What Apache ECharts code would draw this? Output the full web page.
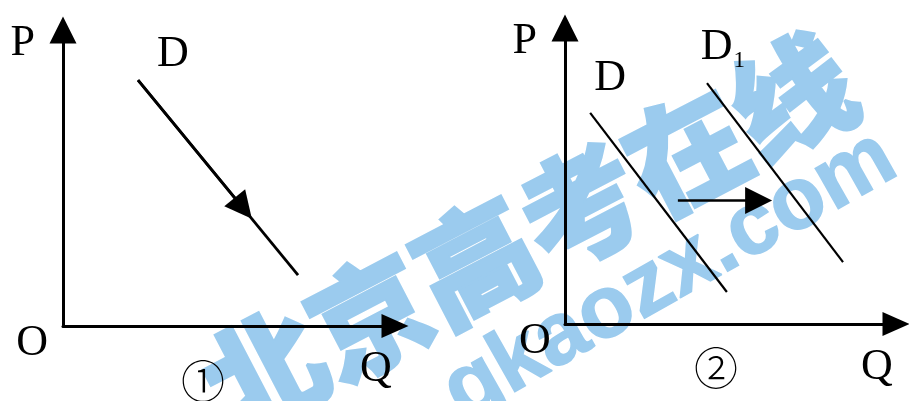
<!DOCTYPE html>
<html>
<head>
<meta charset="utf-8">
<script src="https://cdn.jsdelivr.net/npm/echarts@6/dist/echarts.min.js"></script>
<style>
  html, body { margin: 0; padding: 0; background: #fff; }
  #chart { width: 909px; height: 401px; }
</style>
</head>
<body>
<div id="chart"></div>
<script>
// panel 1: one demand curve, movement along it
const curveD1 = [[22.6, 83.1], [70.8, 17.2]];
const moveAlong = [[22.6, 83.1], [54.3, 39.8]];

// panel 2: demand curve shifts right from D to D1
const curveD2 = [[7.6, 71.3], [48.9, 10.8]];
const curveD2shift = [[42.9, 81.4], [84.0, 20.9]];
const shiftArrow = [[34.1, 41.7], [58.5, 41.7]];

const axisNames = ['P', 'Q'];
const panelTags = ['①', '②'];
const curveNames = ['D', 'D1'];
const watermark = ['北京高考在线', 'gkaozx.com'];

const serif = "'Liberation Serif', 'Times New Roman', serif";
const ink = '#000';
const wmBlue = '#9bcbee';

const chart = echarts.init(document.getElementById('chart'));

function xAxisOf(idx) {
  return {
    type: 'value', gridIndex: idx, min: 0, max: 100, z: 5,
    name: axisNames[1], nameLocation: 'end', nameGap: -19,
    nameTextStyle: { fontFamily: serif, fontSize: 44, color: ink, align: 'center', verticalAlign: 'top', padding: [21, 0, 0, 0] },
    axisLine: { show: true, onZero: false, symbol: ['none', 'triangle'], symbolSize: [24, 27], lineStyle: { color: ink, width: 3 } },
    axisTick: { show: false }, axisLabel: { show: false }, splitLine: { show: false }
  };
}

function yAxisOf(idx) {
  return {
    type: 'value', gridIndex: idx, min: 0, max: 100, z: 5,
    name: axisNames[0], nameLocation: 'end', nameGap: -13,
    nameTextStyle: { fontFamily: serif, fontSize: 44, color: ink, align: 'right', verticalAlign: 'middle', padding: [0, 28, 0, 0] },
    axisLine: { show: true, onZero: false, symbol: ['none', 'triangle'], symbolSize: [27, 27], lineStyle: { color: ink, width: 3 } },
    axisTick: { show: false }, axisLabel: { show: false }, splitLine: { show: false }
  };
}

function curve(data, idx, width) {
  return {
    type: 'line', xAxisIndex: idx, yAxisIndex: idx, data: data, z: 5,
    symbol: 'none', lineStyle: { color: ink, width: width }, silent: true
  };
}

function arrow(data, idx, width) {
  return {
    type: 'lines', coordinateSystem: 'cartesian2d', xAxisIndex: idx, yAxisIndex: idx,
    data: [{ coords: data }], z: 5,
    symbol: ['none', 'triangle'], symbolSize: [25, 27],
    lineStyle: { color: ink, width: width, opacity: 1 }, silent: true
  };
}

// text labels pinned in data units of each panel
function tag(idx, items) {
  return {
    type: 'scatter', xAxisIndex: idx, yAxisIndex: idx, clip: false, silent: true, z: 5,
    symbol: 'circle', symbolSize: 1, itemStyle: { color: 'transparent' },
    data: items.map(function (it) {
      return { value: [it[1], it[2]], label: { show: true, position: 'inside', formatter: it[0] } };
    }),
    label: {
      fontFamily: serif, fontSize: 44, color: ink, opacity: 1, textBorderWidth: 0,
      rich: {
        m: { fontFamily: serif, fontSize: 44, color: ink, textBorderWidth: 0 },
        s: { fontFamily: serif, fontSize: 23, color: ink, textBorderWidth: 0, padding: [28, 0, 0, 1] }
      }
    }
  };
}

const wmStyle = { fill: wmBlue, stroke: wmBlue, lineWidth: 3, align: 'center', verticalAlign: 'middle' };

chart.setOption({
  animation: false,
  backgroundColor: '#fff',
  grid: [
    { left: 63, top: 30, width: 332, height: 296 },
    { left: 565, top: 28, width: 331, height: 296 }
  ],
  xAxis: [xAxisOf(0), xAxisOf(1)],
  yAxis: [yAxisOf(0), yAxisOf(1)],
  series: [
    curve(curveD1, 0, 2.8),
    arrow(moveAlong, 0, 2.8),
    curve(curveD2, 1, 2.2),
    curve(curveD2shift, 1, 2.2),
    arrow(shiftArrow, 1, 2.5),
    tag(0, [[curveNames[0], 33.1, 91.6], ['O', -9.3, -6.0]]),
    tag(1, [[curveNames[0], 13.6, 83.1], ['{m|D}{s|1}', 47.7, 93.6], ['O', -9.1, -5.9]])
  ],
  graphic: [
    { type: 'text', x: 528, y: 234, rotation: 27.5 * Math.PI / 180, z: -10, silent: true,
      style: Object.assign({ text: watermark[0], fontFamily: 'Noto Sans CJK SC', fontWeight: 900, fontSize: 119 }, wmStyle) },
    { type: 'text', x: 670, y: 276, rotation: 29.5 * Math.PI / 180, z: -10, silent: true,
      style: Object.assign({ text: watermark[1], fontFamily: 'Liberation Sans', fontWeight: 'bold', fontSize: 88 }, wmStyle, { lineWidth: 1.5 }) },
    { type: 'text', x: 203, y: 381, z: 10, silent: true,
      style: { text: panelTags[0], fill: ink, fontFamily: 'Noto Sans CJK SC', fontWeight: 300, fontSize: 44, align: 'center', verticalAlign: 'middle' } },
    { type: 'text', x: 716, y: 368, z: 10, silent: true,
      style: { text: panelTags[1], fill: ink, fontFamily: 'Noto Sans CJK SC', fontWeight: 300, fontSize: 44, align: 'center', verticalAlign: 'middle' } }
  ]
});
</script>
</body>
</html>
